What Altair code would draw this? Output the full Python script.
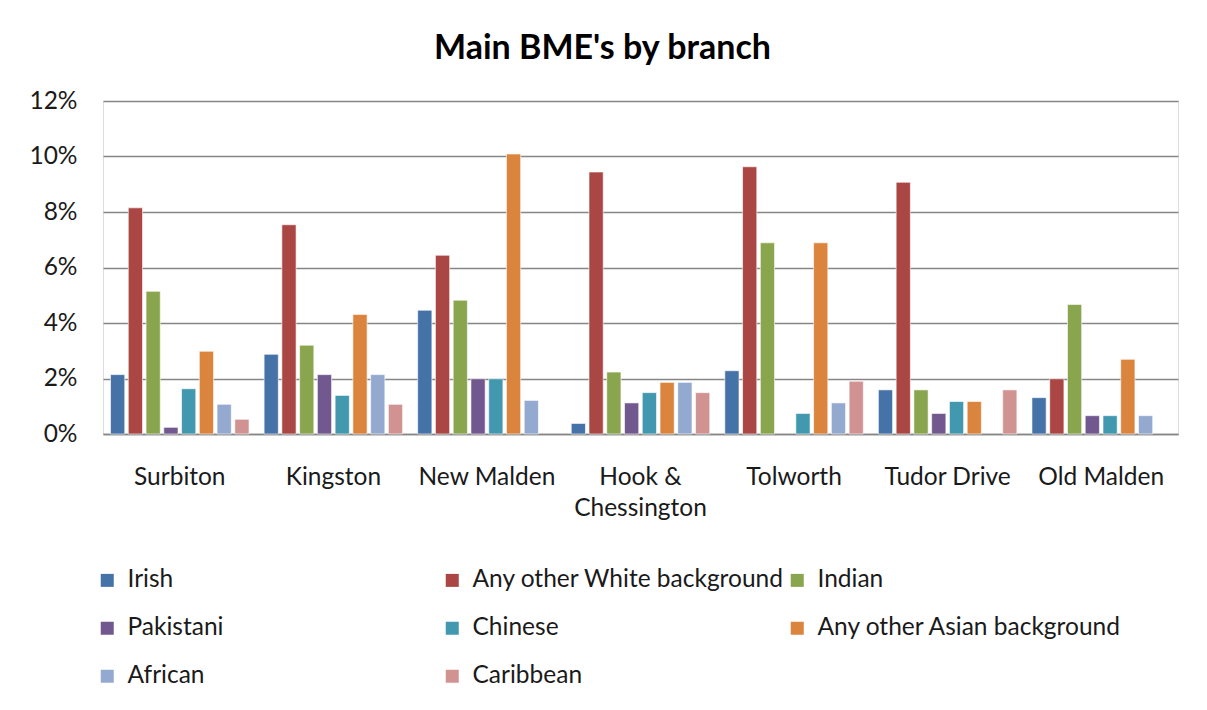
import altair as alt
import pandas as pd

branches = ["Surbiton", "Kingston", "New Malden", "Hook & Chessington",
            "Tolworth", "Tudor Drive", "Old Malden"]
groups = ["Irish", "Any other White background", "Indian", "Pakistani",
          "Chinese", "Any other Asian background", "African", "Caribbean"]
colors = ["#4572A7", "#AA4643", "#89A54E", "#71588F",
          "#4198AF", "#DB843D", "#93A9CF", "#D19392"]

# percentages per branch, in group order (None = no bar)
irish     = [2.14, 2.87, 4.46, 0.38, 2.28, 1.59, 1.31]
white     = [8.15, 7.54, 6.44, 9.44, 9.63, 9.07, 1.99]
indian    = [5.14, 3.20, 4.82, 2.23, 6.89, 1.59, 4.67]
pakistani = [0.24, 2.14, 1.99, 1.12, None, 0.74, 0.66]
chinese   = [1.63, 1.39, 1.99, 1.49, 0.74, 1.17, 0.66]
asian     = [2.98, 4.31, 10.09, 1.86, 6.89, 1.17, 2.69]
african   = [1.07, 2.14, 1.21, 1.86, 1.12, None, 0.66]
caribbean = [0.53, 1.07, None, 1.49, 1.90, 1.59, None]

series = [irish, white, indian, pakistani, chinese, asian, african, caribbean]
rows = []
for g, vals in zip(groups, series):
    for b, v in zip(branches, vals):
        if v is not None:
            rows.append({"branch": b, "group": g, "value": v / 100})
df = pd.DataFrame(rows)

FONT = "Lato"
FS = 24.5

chart = alt.Chart(df).mark_bar(stroke="white", strokeWidth=0.6).encode(
    x=alt.X("branch:N", sort=branches,
            scale=alt.Scale(paddingInner=0.075, paddingOuter=0.0375),
            axis=alt.Axis(title=None, labelAngle=0, ticks=False,
                          domainColor="#868686", domainWidth=1.3,
                          labelPadding=31, labelFontSize=FS, labelFont=FONT,
                          labelColor="#1a1a1a", labelLineHeight=31,
                          labelBaseline="top",
                          labelExpr="datum.label == 'Hook & Chessington' ? ['Hook &', 'Chessington'] : datum.label")),
    xOffset=alt.XOffset("group:N", sort=groups,
                        scale=alt.Scale(domain=groups, paddingInner=0.2, paddingOuter=0.1)),
    y=alt.Y("value:Q", scale=alt.Scale(domain=[0, 0.12], nice=False),
            axis=alt.Axis(title=None, format=".0%", values=[0, 0.02, 0.04, 0.06, 0.08, 0.10, 0.12],
                          ticks=False, domain=False, gridColor="#868686", gridWidth=1.3,
                          labelPadding=26, labelFontSize=FS, labelFont=FONT,
                          labelColor="#1a1a1a")),
    color=alt.Color("group:N", sort=groups,
                    scale=alt.Scale(domain=groups, range=colors),
                    legend=alt.Legend(title=None, orient="none", legendX=-8, legendY=467,
                                      direction="horizontal",
                                      columns=3, gridAlign="all", columnPadding=0,
                                      rowPadding=23, symbolType="square", symbolSize=169,
                                      symbolStrokeWidth=0, labelFontSize=FS, labelFont=FONT,
                                      labelColor="#1a1a1a", labelLimit=500, labelOffset=8,
                                      padding=0)),
).properties(
    width=1075, height=333,
    padding={"left": 95, "top": 93, "right": 20, "bottom": 260},
    autosize=alt.AutoSizeParams(type="none"),
    title=alt.TitleParams("Main BME's by branch", font=FONT, fontSize=34,
                          fontWeight="bold", color="black", anchor="middle",
                          dx=-38, offset=22),
).configure_view(stroke=None).configure(background="white")

chart.save("out.html", embed_options={"renderer": "svg", "actions": False})
